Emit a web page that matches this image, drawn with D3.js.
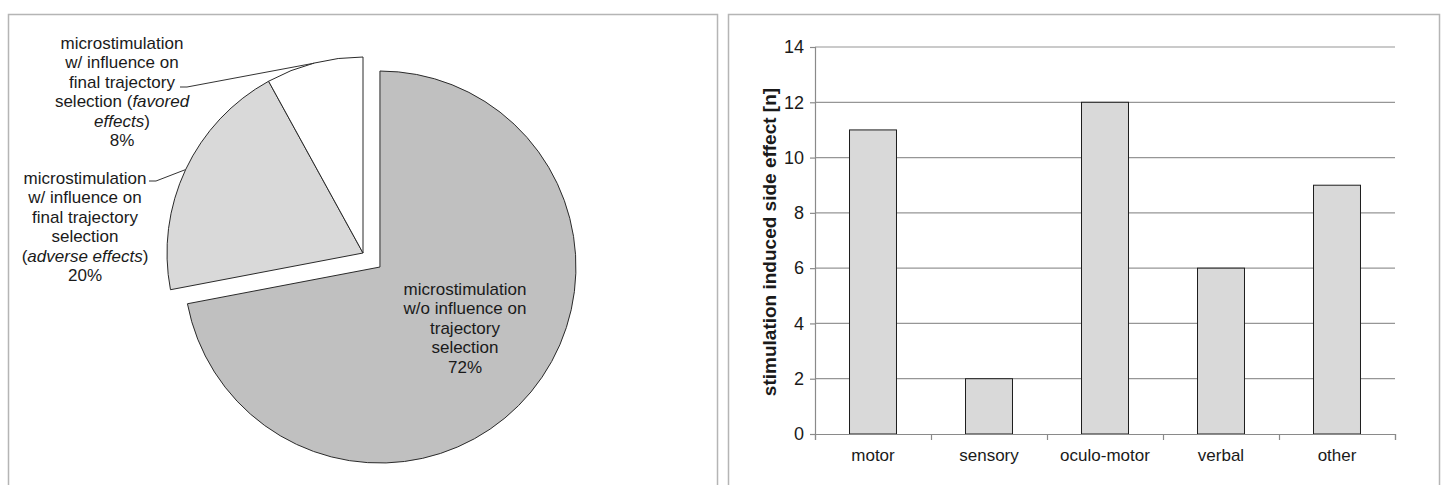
<!DOCTYPE html>
<html>
<head>
<meta charset="utf-8">
<script src="https://cdn.jsdelivr.net/npm/d3@7"></script>
<style>
  body { margin: 0; background: #fff; }
  text { font-family: "Liberation Sans", Arial, sans-serif; fill: #1a1a1a; }
</style>
</head>
<body>
<div id="chart"></div>
<script>
// pie data
var pieNames = ['w/o influence', 'adverse', 'favored'];
var pieValues = [72, 20, 8];
var pieColors = ['#c0c0c0', '#d9d9d9', '#ffffff'];

// bar data
var barCategories = ['motor', 'sensory', 'oculo-motor', 'verbal', 'other'];
var barValues = [11, 2, 12, 6, 9];
var yTicks = [0, 2, 4, 6, 8, 10, 12, 14];

var W = 1447, H = 485;
var svg = d3.select('#chart').append('svg')
   .attr('width', W).attr('height', H);

// panel frames
svg.append('rect').attr('x', 8.5).attr('y', 14.5).attr('width', 709).attr('height', 500)
   .attr('fill', 'none').attr('stroke', '#b5b5b5').attr('stroke-width', 1.5);
svg.append('rect').attr('x', 728.5).attr('y', 14.5).attr('width', 711).attr('height', 500)
   .attr('fill', 'none').attr('stroke', '#b5b5b5').attr('stroke-width', 1.5);

// ---------- pie ----------
var cx = 363, cy = 253, r = 196, explode = 22;
var pie = d3.pie().sort(null).startAngle(0).endAngle(2 * Math.PI);
var arcs = pie(pieValues);
var arc = d3.arc().innerRadius(0).outerRadius(r);
var total = d3.sum(pieValues);

var pg = svg.append('g').attr('transform', 'translate(' + cx + ',' + cy + ')');

function offset(d, i){
   if (i != 0) return [0, 0];
   var a = (d.startAngle + d.endAngle) / 2;
   return [Math.sin(a) * explode, -Math.cos(a) * explode];
}

pg.selectAll('path').data(arcs).enter().append('path')
   .attr('d', arc)
   .attr('transform', function(d, i){ var o = offset(d, i); return 'translate(' + o[0] + ',' + o[1] + ')'; })
   .attr('fill', function(d, i){ return pieColors[i]; })
   .attr('stroke', '#2a2a2a')
   .attr('stroke-width', 1);

var pct = function(v){ return Math.round(v / total * 100) + '%'; };

// label lines, [text, italic?] segments per line
var labelLines = [
   [[['microstimulation']], [['w/o influence on']], [['trajectory']], [['selection']], [[pct(pieValues[0])]]],
   [[['microstimulation']], [['w/ influence on']], [['final trajectory']], [['selection']],
      [['('], ['adverse effects', 1], [')']], [[pct(pieValues[1])]]],
   [[['microstimulation']], [['w/ influence on']], [['final trajectory']], [['selection ('], ['favored', 1]],
      [['effects', 1], [')']], [[pct(pieValues[2])]]]
];
// label anchor (centre x, first baseline y) and leader start
var labelPos = [
   {x: 465, y: 295, lead: null},
   {x: 85, y: 184, lead: [149, 181]},
   {x: 122, y: 49, lead: [180, 87]}
];
var lh = 19.4;

labelLines.forEach(function(lines, i){
   var p = labelPos[i];
   var t = svg.append('text').attr('text-anchor', 'middle').style('font-size', '17px');
   lines.forEach(function(segs, j){
      segs.forEach(function(s, k){
         var ts = t.append('tspan').text(s[0]);
         if (k == 0) ts.attr('x', p.x).attr('y', p.y + j * lh);
         if (s[1]) ts.style('font-style', 'italic');
      });
   });
   if (p.lead){
      var a = (arcs[i].startAngle + arcs[i].endAngle) / 2;
      var ex = cx + Math.sin(a) * r, ey = cy - Math.cos(a) * r;
      svg.append('path')
         .attr('d', 'M' + p.lead[0] + ',' + p.lead[1] + 'h7L' + ex + ',' + ey)
         .attr('fill', 'none').attr('stroke', '#333').attr('stroke-width', 1);
   }
});

// ---------- bars ----------
var bx0 = 815, bx1 = 1395, by0 = 434, by1 = 47;
var x = d3.scaleBand().domain(barCategories).range([bx0, bx1]).paddingInner(0.595).paddingOuter(0.2975);
var y = d3.scaleLinear().domain([0, 14]).range([by0, by1]);

var bg = svg.append('g');
bg.selectAll('line.grid').data(yTicks.slice(1)).enter().append('line')
   .attr('class', 'grid')
   .attr('x1', bx0).attr('x2', bx1)
   .attr('y1', function(d){ return y(d); }).attr('y2', function(d){ return y(d); })
   .attr('stroke', '#969696').attr('stroke-width', 1.2);

bg.selectAll('rect').data(barValues).enter().append('rect')
   .attr('x', function(d, i){ return x(barCategories[i]); })
   .attr('width', x.bandwidth())
   .attr('y', function(d){ return y(d); })
   .attr('height', function(d){ return y(0) - y(d); })
   .attr('fill', '#d9d9d9').attr('stroke', '#1e1e1e').attr('stroke-width', 1);

var yAxis = d3.axisLeft(y).tickValues(yTicks).tickSize(5).tickPadding(6);
var ya = bg.append('g').attr('transform', 'translate(' + bx0 + ',0)').call(yAxis);
ya.selectAll('text').style('font-size', '18px').style('font-family', '"Liberation Sans", Arial, sans-serif').attr('fill', '#1a1a1a');

var xb = d3.scaleLinear().domain([0, barCategories.length]).range([bx0, bx1]);
var xAxis = d3.axisBottom(xb).ticks(barCategories.length).tickSize(6).tickFormat('');
var xa = bg.append('g').attr('transform', 'translate(0,' + by0 + ')').call(xAxis);

[ya, xa].forEach(function(g){
   g.select('.domain').attr('stroke', '#8a8a8a').attr('stroke-width', 1.2);
   g.selectAll('.tick line').attr('stroke', '#8a8a8a').attr('stroke-width', 1.2);
});

bg.selectAll('text.cat').data(barCategories).enter().append('text')
   .attr('class', 'cat')
   .attr('x', function(d){ return x(d) + x.bandwidth() / 2; })
   .attr('y', 461)
   .attr('text-anchor', 'middle')
   .style('font-size', '17px')
   .text(function(d){ return d; });

svg.append('text')
   .attr('transform', 'translate(776,242) rotate(-90)')
   .attr('text-anchor', 'middle')
   .style('font-size', '19px').style('font-weight', 'bold')
   .text('stimulation induced side effect [n]');
</script>
</body>
</html>
